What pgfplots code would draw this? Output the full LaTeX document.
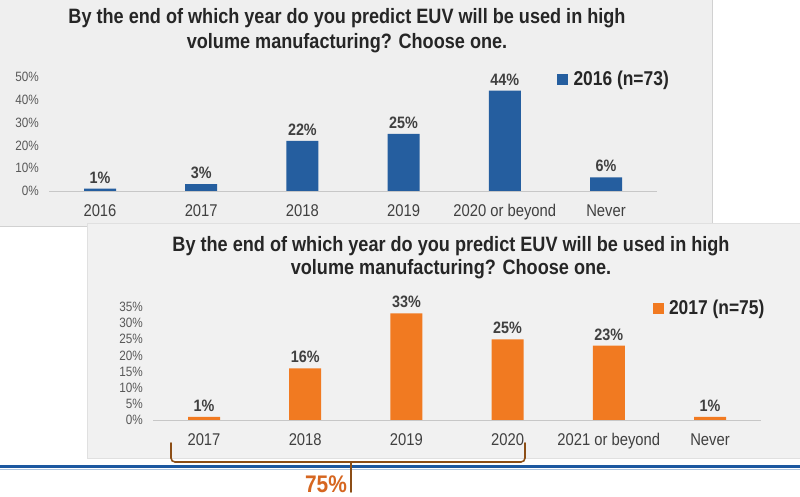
\documentclass[border=0pt]{standalone}
\usepackage{fontspec}
\setmainfont{Liberation Sans}[FakeStretch=0.87]
\usepackage{pgfplots}
\pgfplotsset{compat=1.18}
\definecolor{barblue}{RGB}{37,94,159}
\definecolor{barorange}{RGB}{241,122,33}
\definecolor{panelA}{RGB}{239,239,239}
\definecolor{panelB}{RGB}{241,241,241}
\definecolor{txtdark}{RGB}{38,38,38}
\definecolor{txtmid}{RGB}{64,64,64}
\definecolor{txtlight}{RGB}{89,89,89}
\definecolor{rule}{RGB}{28,88,160}
\definecolor{brace}{RGB}{140,78,22}
\definecolor{pctorange}{RGB}{214,102,32}
\newcommand{\fs}[1]{\fontsize{#1}{#1}\selectfont}
\pgfplotsset{
  common/.style={
    scale only axis, width=607.2pt, xmin=-0.5, xmax=5.5, ymin=0,
    ybar, bar width=32pt, clip=false,
    axis line style={draw=none}, tick style={draw=none}, major tick length=0pt,
    xtick={0,1,2,3,4,5},
    xticklabel style={font=\fs{17}, text=txtmid, yshift=-10pt},
    yticklabel style={font=\fs{13.5}, text=txtlight, xshift=-7pt},
    /pgf/number format/assume math mode=true,
    nodes near coords={\pgfmathprintnumber{\pgfplotspointmeta}\%},
    nodes near coords style={font=\bfseries\fs{16.5}, text=txtmid, yshift=2pt},
    legend style={draw=none, fill=none, font=\bfseries\fs{20}, text=txtdark, anchor=west, inner sep=0pt},
    legend image code/.code={\fill[##1] (0pt,-5.5pt) rectangle (11pt,5.5pt);},
  }
}
\begin{document}
\begin{tikzpicture}[x=1pt,y=1pt]
\path[use as bounding box] (0,0) rectangle (800,497);
\fill[white] (0,0) rectangle (800,497);
% top panel
\fill[panelA] (0,271) rectangle (712,497);
\draw[black!18, line width=0.8pt] (0,271) -- (712,271) -- (712,497);
\node[font=\bfseries\fs{20.8}, text=txtdark, anchor=base] at (347,473) {By the end of which year do you predict EUV will be used in high};
\node[font=\bfseries\fs{20.8}, text=txtdark, anchor=base] at (347,448) {volume manufacturing? Choose one.};
\begin{axis}[common, at={(49.4pt,306pt)}, anchor=south west, height=114pt, ymax=50,
  ytick={0,10,20,30,40,50}, yticklabels={0\%,10\%,20\%,30\%,40\%,50\%},
  xticklabels={2016,2017,2018,2019,2020 or beyond,Never},
  legend style={at={(axis description cs:0.836,0.982)}}]
\draw[black!22, line width=0.8pt] (rel axis cs:0,0) -- (rel axis cs:1,0);
\addplot[fill=barblue, draw=none] coordinates {(0,1) (1,3) (2,22) (3,25) (4,44) (5,6)};
\addlegendentry{\,2016 (n=73)}
\end{axis}
% bottom panel
\fill[black!12] (86.5,38) rectangle (800,273.5);
\fill[panelB] (88,39) rectangle (800,273);
\node[font=\bfseries\fs{20.8}, text=txtdark, anchor=base] at (451,245) {By the end of which year do you predict EUV will be used in high};
\node[font=\bfseries\fs{20.8}, text=txtdark, anchor=base] at (451,222) {volume manufacturing? Choose one.};
\begin{axis}[common, at={(153.4pt,77pt)}, anchor=south west, height=113pt, ymax=35,
  ytick={0,5,10,15,20,25,30,35}, yticklabels={0\%,5\%,10\%,15\%,20\%,25\%,30\%,35\%},
  xticklabels={2017,2018,2019,2020,2021 or beyond,Never},
  legend style={at={(axis description cs:0.822,0.991)}}]
\draw[black!22, line width=0.8pt] (rel axis cs:0,0) -- (rel axis cs:1,0);
\addplot[fill=barorange, draw=none] coordinates {(0,1) (1,16) (2,33) (3,25) (4,23) (5,1)};
\addlegendentry{\,2017 (n=75)}
\end{axis}
% blue rule
\fill[rule] (0,28.5) rectangle (800,31.5);
\draw[rule!35, line width=0.8pt] (0,27.3) -- (800,27.3);
% brace
\draw[brace, line width=1.6pt, line cap=round, rounded corners=4pt]
  (171,54) -- (171,35) -- (351,35);
\draw[brace, line width=1.6pt, line cap=round, rounded corners=4pt]
  (525,54) -- (525,35) -- (351,35);
\draw[brace, line width=1.6pt, line cap=round] (351,35) -- (351,5);
\node[font=\bfseries\fs{24}, text=pctorange, anchor=base] at (326,4) {75\%};
\end{tikzpicture}
\end{document}
